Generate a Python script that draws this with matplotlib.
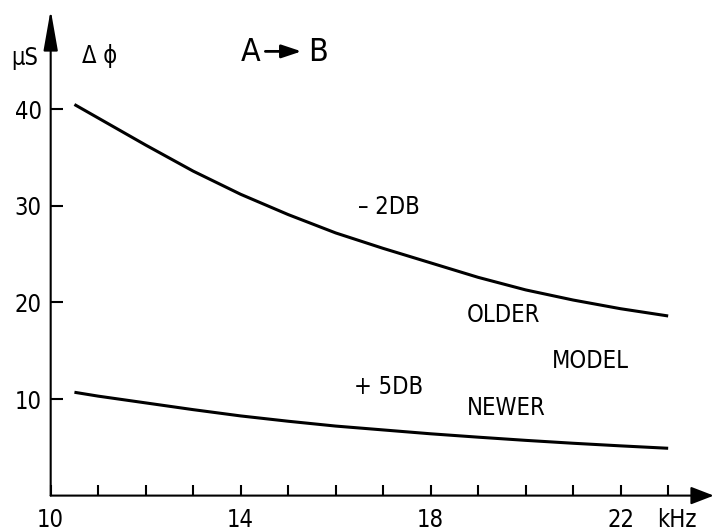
import matplotlib.pyplot as plt
import numpy as np

plt.rcParams['font.family'] = ['DejaVu Sans']
plt.rcParams['font.stretch'] = 'condensed'

# frequency (kHz) and delay difference (microseconds)
freq = [10.5, 11, 12, 13, 14, 15, 16, 17, 18, 19, 20, 21, 22, 23]
older = [40.5, 39.1, 36.3, 33.6, 31.2, 29.1, 27.2, 25.6, 24.1, 22.6, 21.3, 20.25, 19.35, 18.6]
newer = [10.7, 10.3, 9.6, 8.9, 8.25, 7.7, 7.2, 6.8, 6.4, 6.05, 5.72, 5.42, 5.15, 4.9]

x_ticks = list(range(10, 24))
x_labels = ["10", "", "", "", "14", "", "", "", "18", "", "", "", "22", ""]
y_ticks = [10, 20, 30, 40]

fig = plt.figure(figsize=(7.14, 5.31), dpi=100)
ax = fig.add_axes([0, 0, 1, 1])
ax.set_xlim(8.933, 23.965)
ax.set_ylim(-3.666, 51.32)

ax.plot(freq, older, color="black", lw=2.2, solid_capstyle="butt")
ax.plot(freq, newer, color="black", lw=2.2, solid_capstyle="butt")

# axes: spines placed at the origin, drawn as arrows
for s in ["top", "right", "left", "bottom"]:
    ax.spines[s].set_visible(False)
ax.spines["left"].set_position(("data", 10))
ax.spines["bottom"].set_position(("data", 0))
ax.annotate("", xy=(10, 50.3), xytext=(10, 0),
            arrowprops=dict(arrowstyle="-|>,head_length=1.25,head_width=0.22",
                            mutation_scale=20, color="black", lw=1.5,
                            shrinkA=0, shrinkB=0))
ax.annotate("", xy=(23.96, 0), xytext=(10, 0),
            arrowprops=dict(arrowstyle="-|>,head_length=0.7,head_width=0.27",
                            mutation_scale=20, color="black", lw=1.5,
                            shrinkA=0, shrinkB=0))

ax.set_xticks(x_ticks)
ax.set_xticklabels(x_labels)
ax.set_yticks(y_ticks)
ax.tick_params(axis="x", direction="in", length=8, width=1.5, pad=9, labelsize=17)
ax.tick_params(axis="y", direction="in", length=8.5, width=1.5, pad=6.5, labelsize=17)

ax.text(23.19, -2.5, "kHz", fontsize=17, ha="center", va="center")
ax.text(9.45, 45.3, "\u03bcS", fontsize=17, ha="center", va="center")
ax.text(11.03, 45.5, "\u0394 \u03d5", fontsize=17, ha="center", va="center")
ax.text(14.2, 45.9, "A", fontsize=23, ha="center", va="center")
ax.text(15.63, 45.9, "B", fontsize=23, ha="center", va="center")
ax.annotate("", xy=(15.28, 46.0), xytext=(14.52, 46.0),
            arrowprops=dict(arrowstyle="-|>,head_length=0.6,head_width=0.2",
                            mutation_scale=20, color="black", lw=2,
                            shrinkA=0, shrinkB=0))

ax.text(17.12, 29.93, "\u2013 2DB", fontsize=17, ha="center", va="center")
ax.text(19.53, 18.69, "OLDER", fontsize=17, ha="center", va="center")
ax.text(21.37, 13.89, "MODEL", fontsize=17, ha="center", va="center")
ax.text(17.12, 11.2, "+ 5DB", fontsize=17, ha="center", va="center")
ax.text(19.6, 9.07, "NEWER", fontsize=17, ha="center", va="center")

fig.savefig("out.png", dpi=100)
